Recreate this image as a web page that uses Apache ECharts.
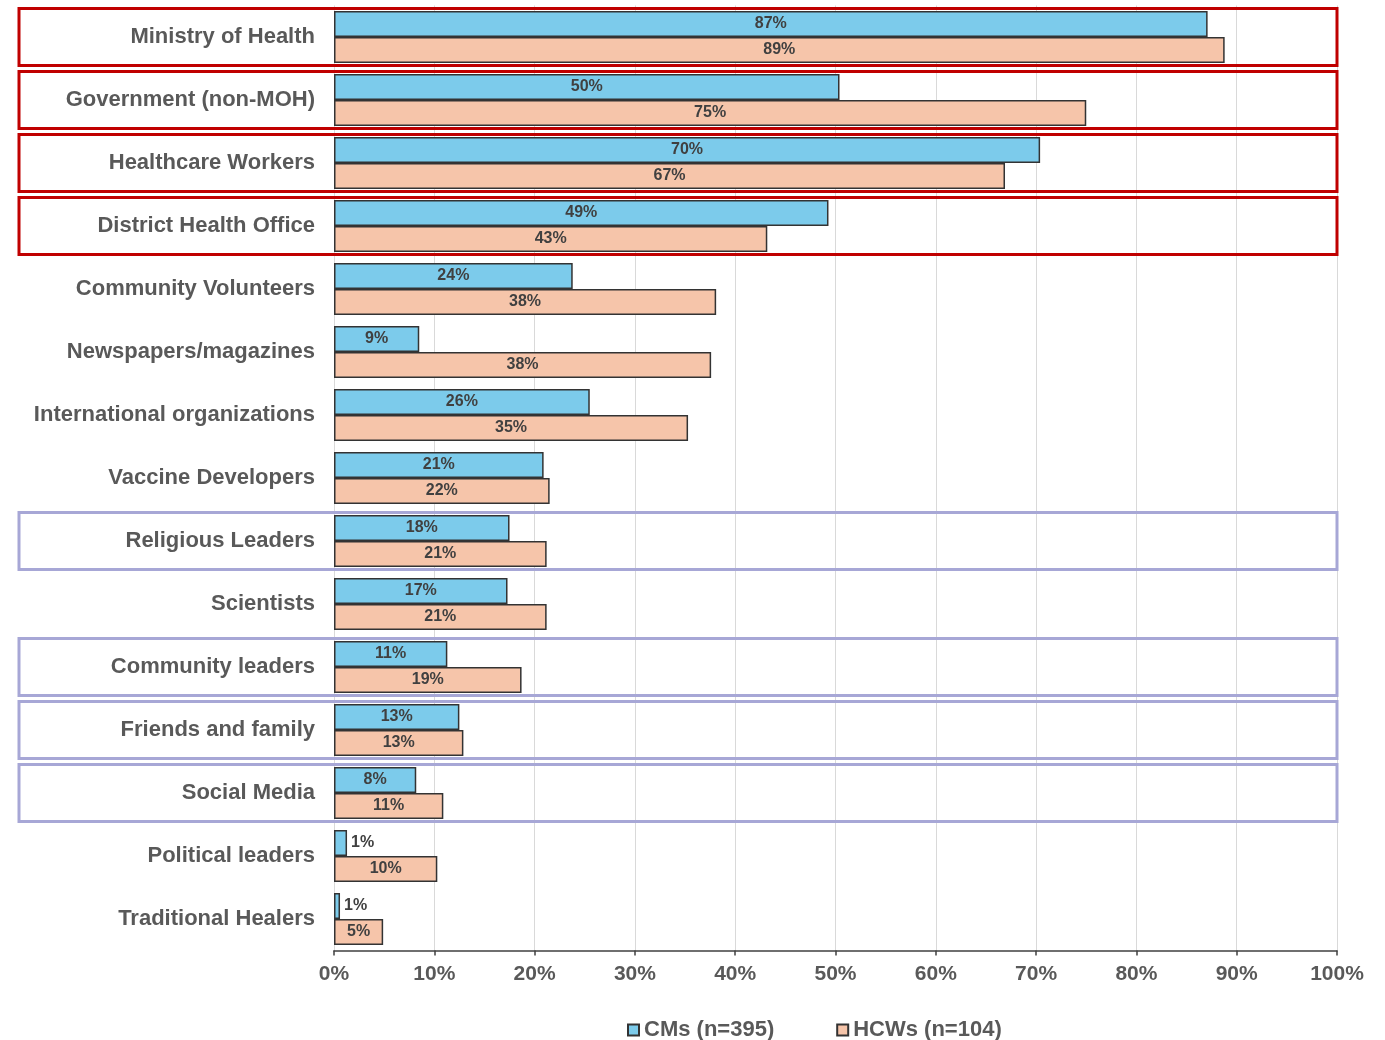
<!DOCTYPE html>
<html><head><meta charset="utf-8">
<script src="https://cdn.jsdelivr.net/npm/echarts@6/dist/echarts.min.js"></script>
<style>html,body{margin:0;padding:0;background:#fff}#c{width:1385px;height:1040px}</style>
</head><body><div id="c"></div>
<script>
const categories = ["Ministry of Health","Government (non-MOH)","Healthcare Workers","District Health Office","Community Volunteers","Newspapers/magazines","International organizations","Vaccine Developers","Religious Leaders","Scientists","Community leaders","Friends and family","Social Media","Political leaders","Traditional Healers"];
const cmsValues = [87.1, 50.4, 70.4, 49.3, 23.8, 8.5, 25.5, 20.9, 17.5, 17.3, 11.3, 12.5, 8.2, 1.3, 0.6];
const hcwValues = [88.8, 75.0, 66.9, 43.2, 38.1, 37.6, 35.3, 21.5, 21.2, 21.2, 18.7, 12.9, 10.9, 10.3, 4.9];
const xTicks = [0,10,20,30,40,50,60,70,80,90,100];
const redBoxed = ["Ministry of Health","Government (non-MOH)","Healthcare Workers","District Health Office"];
const purpleBoxed = ["Religious Leaders","Community leaders","Friends and family","Social Media"];

const FONT = '"Liberation Sans", Arial, Helvetica, sans-serif';
const chart = echarts.init(document.getElementById('c'));
const lbl = {show:true, position:'inside', color:'#404040', fontWeight:'bold', fontSize:16, fontFamily:FONT,
  formatter: p => Math.round(p.value) + '%'};
function cmsData(){
  return cmsValues.map(v => v < 3 ? {value:v, label:{position:'right', distance:4}} : v);
}
chart.setOption({
  animation:false,
  grid:{left:334, right:48, top:5.5, bottom:89.5},
  xAxis:{type:'value', min:0, max:100, interval:10,
    axisLine:{show:true, lineStyle:{color:'#404040', width:1.5}},
    axisTick:{show:true, length:5, lineStyle:{color:'#404040', width:1.5}},
    splitLine:{show:true, lineStyle:{color:'#d9d9d9', width:1}},
    axisLabel:{formatter: v => v + '%', color:'#595959', fontWeight:'bold', fontSize:21, fontFamily:FONT, margin:13}},
  yAxis:{type:'category', data:categories, inverse:true,
    axisLine:{show:false}, axisTick:{show:false},
    axisLabel:{color:'#595959', fontWeight:'bold', fontSize:22, fontFamily:FONT, margin:19}},
  legend:{top:1014, left:622, itemWidth:11, itemHeight:11, itemGap:62, icon:'rect',
    textStyle:{color:'#595959', fontWeight:'bold', fontSize:22, fontFamily:FONT},
    data:['CMs (n=395)','HCWs (n=104)']},
  series:[
    {name:'CMs (n=395)', type:'bar', data:cmsData(), barWidth:26, barGap:'0%',
     itemStyle:{color:'#7ccbeb', borderColor:'#333', borderWidth:1.5}, label:lbl},
    {name:'HCWs (n=104)', type:'bar', data:hcwValues, barWidth:26, barGap:'0%',
     itemStyle:{color:'#f6c5aa', borderColor:'#333', borderWidth:1.5}, label:lbl}
  ]
});
function boxes(){
  const xr = chart.convertToPixel({xAxisIndex:0}, 100);
  const g = [];
  const add = (names, color) => names.forEach(n => {
    const yc = chart.convertToPixel({yAxisIndex:0}, n);
    g.push({type:'rect', shape:{x:19, y:yc-28.5, width:xr-19, height:57}, z:100,
      style:{fill:'none', stroke:color, lineWidth:3}});
  });
  add(redBoxed, '#c00000');
  add(purpleBoxed, '#a7a7d6');
  chart.setOption({graphic:g});
}
boxes();
</script></body></html>
